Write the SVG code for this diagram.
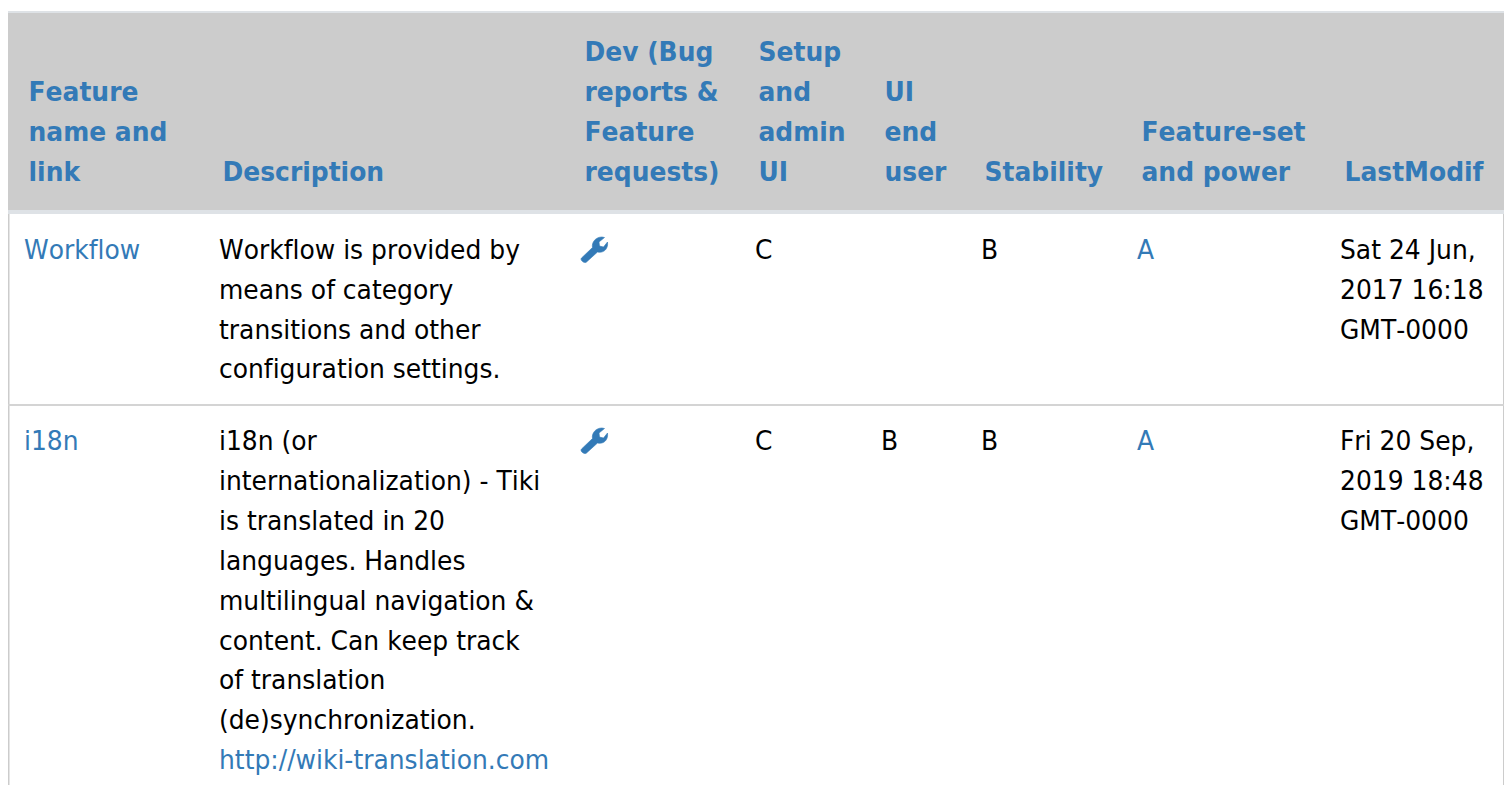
<svg xmlns="http://www.w3.org/2000/svg" width="1504" height="785" viewBox="0 0 1504 785">
<style>
text{font-family:"DejaVu Sans",sans-serif;font-size:26px;fill:#000;font-kerning:none;font-variant-ligatures:none;transform-box:fill-box;transform-origin:0 0;transform:scaleX(.9615)}
.h{font-weight:700;fill:#337ab7}
.l{fill:#337ab7}
</style>
<defs>
<path id="wrench" fill-rule="evenodd" stroke="#337ab7" stroke-width=".6" d="M-10.5 11 L0.5 0.5 C-0.5 -4.5 3.5 -10 10 -10 L12.5 -9.5 L7 -5 L7.5 -1 L11.5 0 L15.5 -5 C16.5 1.5 12 6.5 5.5 5 L-5.5 15 C-7.5 17 -12.5 13 -10.5 11Z" fill="#337ab7"/>
</defs>
<rect width="1504" height="785" fill="#fff"/>
<g id="table-frame">
<rect x="8" y="13" width="1496" height="197" fill="#ccc"/>
<rect x="8" y="11" width="1496" height="2" fill="#dee2e6"/>
<rect x="8" y="210" width="1496" height="4" fill="#dee2e6"/>
<rect x="8" y="214" width="1.5" height="571" fill="#ccc"/>
<rect x="1503" y="214" width="1" height="571" fill="#ccc"/>
<rect x="8" y="404" width="1496" height="2" fill="#d4d4d4"/>
</g>
<g id="header">
<text class="h" x="28.5" y="101">Feature</text>
<text class="h" x="28.5" y="141">name and</text>
<text class="h" x="28.5" y="181">link</text>
<text class="h" x="222.5" y="181">Description</text>
<text class="h" x="584.5" y="61">Dev (Bug</text>
<text class="h" x="584.5" y="101">reports &amp;</text>
<text class="h" x="584.5" y="141">Feature</text>
<text class="h" x="584.5" y="181">requests)</text>
<text class="h" x="758.5" y="61">Setup</text>
<text class="h" x="758.5" y="101">and</text>
<text class="h" x="758.5" y="141">admin</text>
<text class="h" x="758.5" y="181">UI</text>
<text class="h" x="884.5" y="101">UI</text>
<text class="h" x="884.5" y="141">end</text>
<text class="h" x="884.5" y="181">user</text>
<text class="h" x="984.5" y="181">Stability</text>
<text class="h" x="1141.5" y="141">Feature-set</text>
<text class="h" x="1141.5" y="181">and power</text>
<text class="h" x="1344.5" y="181">LastModif</text>
</g>
<g id="row-workflow">
<text class="l" x="24" y="259">Workflow</text>
<text x="219" y="259">Workflow is provided by</text>
<text x="219" y="299">means of category</text>
<text x="219" y="339">transitions and other</text>
<text x="219" y="378">configuration settings.</text>
<use href="#wrench" x="592" y="247"/>
<text x="755" y="259">C</text>
<text x="981" y="259">B</text>
<text class="l" x="1137" y="259">A</text>
<text x="1340" y="259">Sat 24 Jun,</text>
<text x="1340" y="299">2017 16:18</text>
<text x="1340" y="339">GMT-0000</text>
</g>
<g id="row-i18n">
<text class="l" x="24" y="450">i18n</text>
<text x="219" y="450">i18n (or</text>
<text x="219" y="490">internationalization) - Tiki</text>
<text x="219" y="530">is translated in 20</text>
<text x="219" y="570">languages. Handles</text>
<text x="219" y="610">multilingual navigation &amp;</text>
<text x="219" y="650">content. Can keep track</text>
<text x="219" y="689">of translation</text>
<text x="219" y="729">(de)synchronization.</text>
<text class="l" x="219" y="769">http://wiki-translation.com</text>
<use href="#wrench" x="592" y="438"/>
<text x="755" y="450">C</text>
<text x="881" y="450">B</text>
<text x="981" y="450">B</text>
<text class="l" x="1137" y="450">A</text>
<text x="1340" y="450">Fri 20 Sep,</text>
<text x="1340" y="490">2019 18:48</text>
<text x="1340" y="530">GMT-0000</text>
</g>
</svg>
